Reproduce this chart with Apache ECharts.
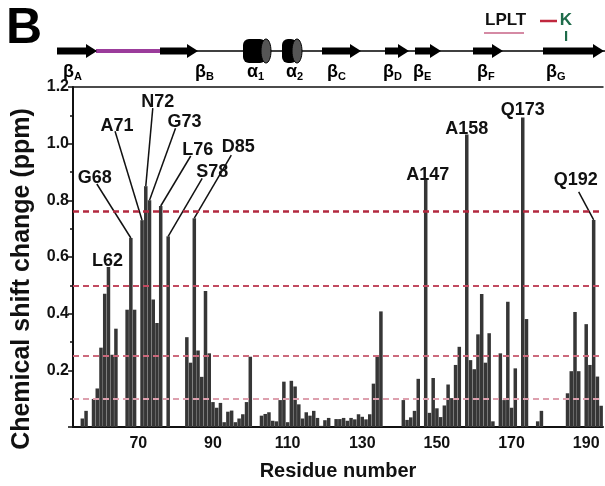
<!DOCTYPE html>
<html>
<head>
<meta charset="utf-8">
<title>Chemical shift change</title>
<script src="https://cdn.jsdelivr.net/npm/echarts@6/dist/echarts.min.js"></script>
<style>
html, body { margin: 0; padding: 0; background: #fff; }
#chart { width: 605px; height: 486px; }
</style>
</head>
<body>
<div id="chart"></div>
<script>
// residue numbers shown on the x axis (53 .. 194)
var firstResidue = 53;
var lastResidue = 194;
var residues = [];
for (var r = firstResidue; r <= lastResidue; r++) residues.push(String(r));

// chemical shift change (ppm), one value per residue
var shifts = [
  0, 0, 0.03, 0.057, 0, 0.099, 0.136, 0.28,              // 53-60
  0.47, 0.565, 0.255, 0.347, 0, 0, 0.414, 0.667, 0.414, 0, // 61-70
  0.73, 0.85, 0.80, 0.45, 0.367, 0.78, 0, 0.673, 0, 0,    // 71-80
  0, 0, 0.317, 0.227, 0.737, 0.27, 0.177, 0.48, 0.26, 0.088, // 81-90
  0.068, 0.085, 0.017, 0.054, 0.058, 0.017, 0.03, 0.045, 0.088, 0.248, // 91-100
  0, 0, 0.04, 0.046, 0.052, 0.022, 0.02, 0.095, 0.16, 0.017, // 101-110
  0.163, 0.143, 0.08, 0.03, 0.052, 0.04, 0.057, 0.032, 0.004, 0.024, // 111-120
  0.032, 0, 0.028, 0.028, 0.032, 0.022, 0.032, 0.027, 0.045, 0.036, // 121-130
  0.027, 0.045, 0.153, 0.25, 0.408, 0, 0, 0, 0, 0,        // 131-140
  0.095, 0.025, 0.034, 0.057, 0.17, 0, 0.873, 0.05, 0.173, 0.066, // 141-150
  0.035, 0.076, 0.15, 0.102, 0.219, 0.283, 0, 1.032, 0.236, 0.204, // 151-160
  0.327, 0.469, 0.227, 0.331, 0.02, 0, 0.26, 0.095, 0.442, 0.068, // 161-170
  0.207, 0, 1.092, 0.381, 0, 0, 0.02, 0.057, 0, 0,        // 171-180
  0, 0, 0, 0, 0.119, 0.197, 0.406, 0.197, 0, 0.363,       // 181-190
  0.219, 0.731, 0.178, 0.075                              // 191-194
];

// dashed reference levels (ppm)
var thresholds = [0.755, 0.497, 0.252, 0.099];
var thresholdColors = ['#b3293f', '#c24a60', '#cc6a7c', '#dda0ae'];

// labelled x ticks
var xTickLabels = [70, 90, 110, 130, 150, 170, 190];

// labelled residues: label centre offset (dx, dy) from bar top, optional leader start (lx, ly)
var annotations = [
  { res: 62,  text: 'L62',  dx: -1,  dy: -6 },
  { res: 68,  text: 'G68',  dx: -36, dy: -60, lx: -34, ly: -54 },
  { res: 71,  text: 'A71',  dx: -25, dy: -94, lx: -27, ly: -89 },
  { res: 72,  text: 'N72',  dx: 12,  dy: -84, lx: 7,   ly: -78 },
  { res: 73,  text: 'G73',  dx: 35,  dy: -78, lx: 26,  ly: -72 },
  { res: 76,  text: 'L76',  dx: 37,  dy: -56, lx: 30,  ly: -50 },
  { res: 78,  text: 'S78',  dx: 44,  dy: -64, lx: 34,  ly: -58 },
  { res: 85,  text: 'D85',  dx: 44,  dy: -71, lx: 37,  ly: -63 },
  { res: 147, text: 'A147', dx: 2,   dy: -5 },
  { res: 158, text: 'A158', dx: 0,   dy: -6 },
  { res: 173, text: 'Q173', dx: 0,   dy: -8 },
  { res: 192, text: 'Q192', dx: -18, dy: -40, lx: -15, ly: -28 }
];

var FONT = 'Liberation Sans, Arial, sans-serif';
var chart = echarts.init(document.getElementById('chart'));

chart.setOption({
  animation: false,
  grid: { left: 73, right: 2, top: 87, bottom: 46 },
  xAxis: [{
    type: 'category',
    data: residues,
    name: 'Residue number',
    nameLocation: 'middle',
    nameGap: 34,
    nameTextStyle: { fontFamily: FONT, fontWeight: 'bold', fontSize: 20, color: '#111' },
    axisLine: { lineStyle: { color: '#111', width: 2 } },
    axisTick: {
      alignWithLabel: true,
      length: 5,
      lineStyle: { color: '#111', width: 1.5 },
      interval: function (i, v) { return Number(v) % 10 === 0; }
    },
    axisLabel: {
      interval: function (i, v) { return xTickLabels.indexOf(Number(v)) >= 0; },
      fontFamily: FONT, fontWeight: 'bold', fontSize: 16, color: '#111', margin: 9
    },
    splitLine: { show: false }
  }, {
    type: 'category',
    position: 'top',
    data: residues,
    axisLine: { lineStyle: { color: '#111', width: 1.5 } },
    axisTick: { show: false },
    axisLabel: { show: false }
  }],
  yAxis: {
    type: 'value',
    min: 0,
    max: 1.2,
    interval: 0.2,
    axisLine: { show: true, lineStyle: { color: '#111', width: 2 } },
    axisTick: { show: true, length: 5, lineStyle: { color: '#111', width: 1.5 } },
    minorTick: { show: true, splitNumber: 2, length: 3, lineStyle: { color: '#111', width: 1.5 } },
    axisLabel: {
      fontFamily: FONT, fontWeight: 'bold', fontSize: 16, color: '#111', margin: 4,
      formatter: function (v) { return v === 0 ? '' : v.toFixed(1); }
    },
    splitLine: { show: false }
  },
  series: [{
    type: 'bar',
    data: shifts,
    barCategoryGap: '6%',
    itemStyle: { color: '#363636' },
    markLine: {
      silent: true,
      symbol: 'none',
      label: { show: false },
      data: thresholds.map(function (t, i) {
        return { yAxis: t, lineStyle: { color: thresholdColors[i], width: i === 0 ? 2.5 : 2, type: [6, 4] } };
      })
    }
  }]
});

// annotations anchored on bar tops via the chart's own scales
var graphics = [];
annotations.forEach(function (a) {
  var idx = a.res - firstResidue;
  var p = chart.convertToPixel({ xAxisIndex: 0, yAxisIndex: 0 }, [idx, shifts[idx]]);
  graphics.push({
    type: 'text', x: p[0] + a.dx, y: p[1] + a.dy,
    style: { text: a.text, fontFamily: FONT, fontWeight: 'bold', fontSize: 18, fill: '#111', align: 'center', verticalAlign: 'middle' }
  });
  if (a.lx !== undefined) {
    graphics.push({
      type: 'line',
      shape: { x1: p[0] + a.lx, y1: p[1] + a.ly, x2: p[0], y2: p[1] },
      style: { stroke: '#111', lineWidth: 1.5 }
    });
  }
});

// y axis title, placed a little below the axis middle like the original
graphics.push({
  type: 'text', x: 22, y: 279, rotation: Math.PI / 2,
  style: { text: 'Chemical shift change (ppm)', fontFamily: FONT, fontWeight: 'bold', fontSize: 25, fill: '#111', align: 'center', verticalAlign: 'middle' }
});

// panel letter and secondary-structure sketch on top
graphics.push({ type: 'text', x: 6, y: 4, style: { text: 'B', fontFamily: FONT, fontWeight: 'bold', fontSize: 50, fill: '#000' } });
var trackY = 51;
graphics.push({ type: 'line', shape: { x1: 58, y1: trackY, x2: 605, y2: trackY }, style: { stroke: '#000', lineWidth: 1.5 } });
graphics.push({ type: 'line', shape: { x1: 96, y1: trackY, x2: 160, y2: trackY }, style: { stroke: '#9b3c9b', lineWidth: 4 } });

function subLabel(sym, label, lx) {
  graphics.push({
    type: 'text', x: lx, y: 72,
    style: { text: '{g|' + sym + '}{s|' + label + '}', fill: '#000', verticalAlign: 'middle',
      rich: { g: { fontFamily: FONT, fontWeight: 'bold', fontSize: 18, fill: '#000' },
              s: { fontFamily: FONT, fontWeight: 'bold', fontSize: 11, fill: '#000', padding: [10, 0, 0, 0] } } }
  });
}
function strand(x0, x1, label, lx) {
  graphics.push({ type: 'line', shape: { x1: x0, y1: trackY, x2: x1 - 9, y2: trackY }, style: { stroke: '#000', lineWidth: 7 } });
  graphics.push({ type: 'polygon', shape: { points: [[x1 - 11, trackY - 7], [x1, trackY], [x1 - 11, trackY + 7]] }, style: { fill: '#000' } });
  subLabel('β', label, lx);
}
function helix(x0, x1, label, lx) {
  graphics.push({ type: 'rect', shape: { x: x0, y: trackY - 12, width: x1 - x0 - 5, height: 24, r: 6 }, style: { fill: '#000' } });
  graphics.push({ type: 'ellipse', shape: { cx: x1 - 5, cy: trackY, rx: 5, ry: 12 }, style: { fill: '#555', stroke: '#000', lineWidth: 1 } });
  subLabel('α', label, lx);
}
strand(57, 97, 'A', 63);
strand(160, 198, 'B', 195);
helix(243, 271, '1', 247);
helix(282, 302, '2', 286);
strand(322, 361, 'C', 327);
strand(385, 409, 'D', 383);
strand(415, 441, 'E', 413);
strand(473, 503, 'F', 477);
strand(543, 604, 'G', 546);

// key at top right
graphics.push({ type: 'text', x: 485, y: 20, style: { text: 'LPLT', fontFamily: FONT, fontWeight: 'bold', fontSize: 17, fill: '#111', verticalAlign: 'middle' } });
graphics.push({ type: 'line', shape: { x1: 484, y1: 33, x2: 524, y2: 33 }, style: { stroke: '#d58aa4', lineWidth: 2 } });
graphics.push({ type: 'line', shape: { x1: 540, y1: 21, x2: 557, y2: 21 }, style: { stroke: '#c0283e', lineWidth: 2.5 } });
graphics.push({ type: 'text', x: 566, y: 20, style: { text: 'K', fontFamily: FONT, fontWeight: 'bold', fontSize: 17, fill: '#1e6b4a', align: 'center', verticalAlign: 'middle' } });
graphics.push({ type: 'text', x: 566, y: 37, style: { text: 'I', fontFamily: FONT, fontWeight: 'bold', fontSize: 15, fill: '#1e6b4a', align: 'center', verticalAlign: 'middle' } });

chart.setOption({ graphic: graphics });
</script>
</body>
</html>
